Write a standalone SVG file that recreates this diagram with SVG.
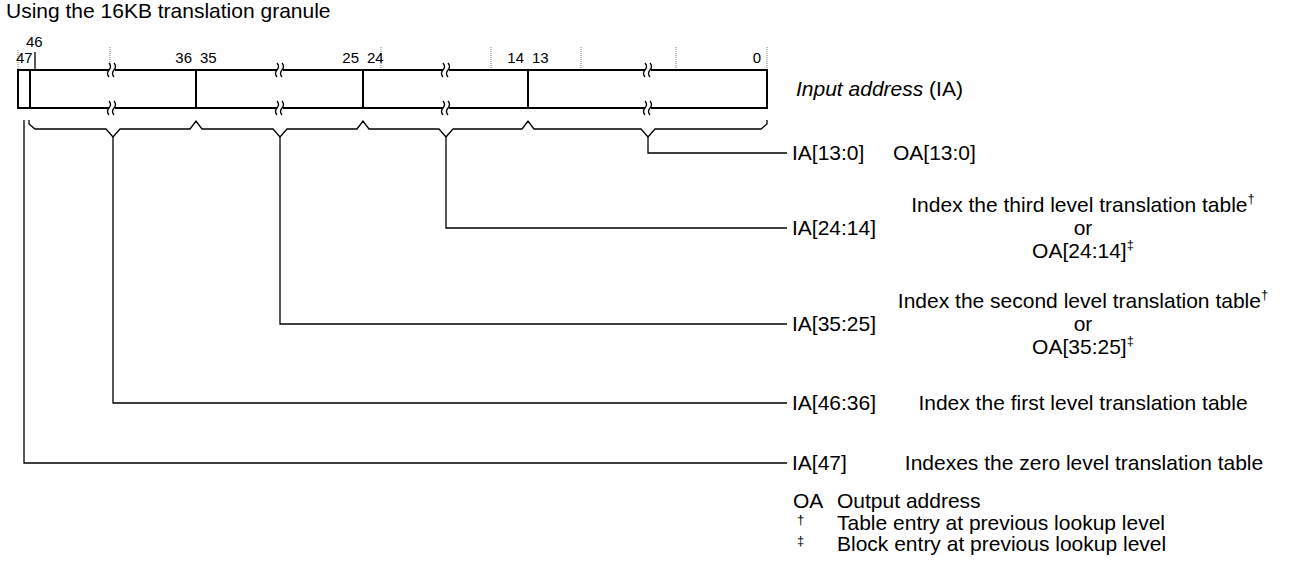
<svg xmlns="http://www.w3.org/2000/svg" width="1292" height="581" viewBox="0 0 1292 581">
<style>
text{font-family:"Liberation Sans",Arial,sans-serif;fill:#000}
.t{font-size:21px}
.n{font-size:15px}
.c{text-anchor:middle}
.e{text-anchor:end}
.sup{font-size:13px}
.box{fill:none;stroke:#000;stroke-width:2}
.div{stroke:#000;stroke-width:2}
.dot{stroke:#777;stroke-width:1;stroke-dasharray:1 1}
.br{fill:none;stroke:#000;stroke-width:1.3}
.conn{fill:none;stroke:#000;stroke-width:1.3}
.brk{fill:none;stroke:#000;stroke-width:1.3}
</style>
<defs>
<g id="brk">
<rect x="-3" y="-3" width="6" height="6" fill="#fff"/>
<path class="brk" d="M-3,-7 q3,3.5 0,7 q-3,3.5 0,7"/>
<path class="brk" d="M2,-7 q3,3.5 0,7 q-3,3.5 0,7"/>
</g>
</defs>
<text class="t" x="6" y="18">Using the 16KB translation granule</text>
<g id="register">
<line class="dot" x1="18" y1="50" x2="18" y2="69"/>
<line class="dot" x1="110" y1="47" x2="110" y2="69"/>
<line class="dot" x1="381" y1="47" x2="381" y2="69"/>
<line class="dot" x1="491" y1="47" x2="491" y2="69"/>
<line class="dot" x1="581" y1="47" x2="581" y2="69"/>
<line class="dot" x1="676" y1="47" x2="676" y2="69"/>
<line class="dot" x1="767" y1="47" x2="767" y2="69"/>
<line x1="35" y1="52" x2="35" y2="70" stroke="#000" stroke-width="1.3"/>
<rect class="box" x="18" y="70" width="749" height="38"/>
<line class="div" x1="30" y1="70" x2="30" y2="108"/>
<line class="div" x1="196" y1="70" x2="196" y2="108"/>
<line class="div" x1="363" y1="70" x2="363" y2="108"/>
<line class="div" x1="528" y1="70" x2="528" y2="108"/>
<use href="#brk" x="112" y="70"/><use href="#brk" x="112" y="108"/>
<use href="#brk" x="280" y="70"/><use href="#brk" x="280" y="108"/>
<use href="#brk" x="446" y="70"/><use href="#brk" x="446" y="108"/>
<use href="#brk" x="648" y="70"/><use href="#brk" x="648" y="108"/>
<text class="n" x="26" y="47">46</text>
<text class="n" x="16" y="63">47</text>
<text class="n e" x="192" y="63">36</text>
<text class="n" x="200" y="63">35</text>
<text class="n e" x="359" y="63">25</text>
<text class="n" x="367" y="63">24</text>
<text class="n e" x="524" y="63">14</text>
<text class="n" x="532" y="63">13</text>
<text class="n e" x="761" y="63">0</text>
<text class="t" x="796" y="96"><tspan font-style="italic">Input address</tspan> (IA)</text>
</g>
<g id="braces">
<path class="br" d="M29,120 v4 l6,5 H106 l7,8 l7,-8 H190 l6,-8 l6,8 H273 l7,8 l7,-8 H357 l6,-8 l6,8 H439 l7,8 l7,-8 H522 l6,-8 l6,8 H641 l7,8 l7,-8 H761 l6,-5 v-4"/>
</g>
<g id="connectors">
<path class="conn" d="M648,137 V153 H787"/>
<path class="conn" d="M446,137 V228 H787"/>
<path class="conn" d="M280,137 V324 H787"/>
<path class="conn" d="M113,137 V403 H787"/>
<path class="conn" d="M24,120 V463 H787"/>
</g>
<g id="n-ia13">
<text class="t" x="792" y="160">IA[13:0]</text>
<text class="t" x="893" y="160">OA[13:0]</text>
</g>
<g id="n-ia24">
<text class="t" x="792" y="235">IA[24:14]</text>
<text class="t c" x="1083" y="212">Index the third level translation table<tspan class="sup" dy="-9">†</tspan></text>
<text class="t c" x="1083" y="235">or</text>
<text class="t c" x="1083" y="258">OA[24:14]<tspan class="sup" dy="-9">‡</tspan></text>
</g>
<g id="n-ia35">
<text class="t" x="792" y="331">IA[35:25]</text>
<text class="t c" x="1083" y="308">Index the second level translation table<tspan class="sup" dy="-9">†</tspan></text>
<text class="t c" x="1083" y="331">or</text>
<text class="t c" x="1083" y="354">OA[35:25]<tspan class="sup" dy="-9">‡</tspan></text>
</g>
<g id="n-ia46">
<text class="t" x="792" y="410">IA[46:36]</text>
<text class="t c" x="1083" y="410">Index the first level translation table</text>
</g>
<g id="n-ia47">
<text class="t" x="792" y="470">IA[47]</text>
<text class="t c" x="1084" y="470">Indexes the zero level translation table</text>
</g>
<g id="legend">
<text class="t" x="793" y="508">OA</text>
<text class="t" x="837" y="508">Output address</text>
<text class="sup" x="797" y="524">†</text>
<text class="t" x="837" y="530">Table entry at previous lookup level</text>
<text class="sup" x="797" y="545">‡</text>
<text class="t" x="837" y="551">Block entry at previous lookup level</text>
</g>
</svg>
